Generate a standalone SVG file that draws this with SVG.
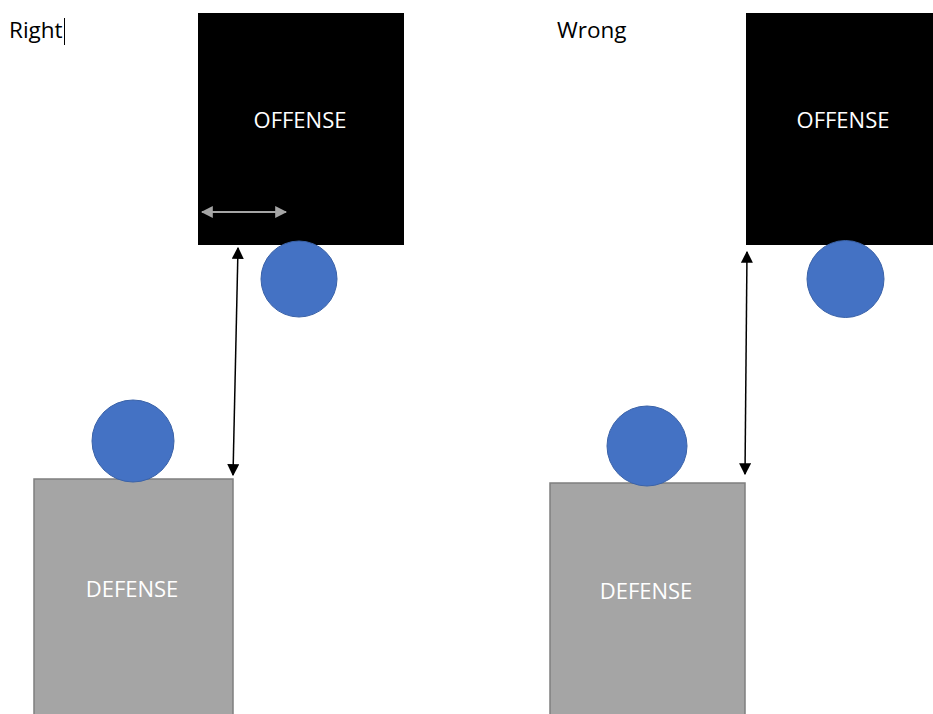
<svg xmlns="http://www.w3.org/2000/svg" width="933" height="714" viewBox="0 0 933 714">
<style>
.lbl{font-family:"Open Sans","Liberation Sans",sans-serif;font-size:22.5px;fill:#000}
.box-t{font-family:"Open Sans","Liberation Sans",sans-serif;font-size:22px;fill:#fff;text-anchor:middle}
.off{fill:#000}
.def{fill:#a5a5a5;stroke:#7f7f7f;stroke-width:1.5}
.ball{fill:#4472c4;stroke:#3a62a8;stroke-width:1}
.arr{stroke:#000;stroke-width:1.5;fill:none;marker-start:url(#ah);marker-end:url(#ah)}
.arr-g{stroke:#a5a5a5;stroke-width:2;fill:none;marker-start:url(#ahg);marker-end:url(#ahg)}
</style>
<defs>
<marker id="ah" viewBox="0 0 10 10" refX="9" refY="5" markerWidth="8" markerHeight="8" orient="auto-start-reverse" markerUnits="strokeWidth">
<path d="M0,0 L10,5 L0,10 z" fill="#000"/>
</marker>
<marker id="ahg" viewBox="0 0 10 10" refX="9" refY="5" markerWidth="6" markerHeight="6" orient="auto-start-reverse" markerUnits="strokeWidth">
<path d="M0,0 L10,5 L0,10 z" fill="#a5a5a5"/>
</marker>
</defs>
<rect width="933" height="714" fill="#fff"/>
<text class="lbl" x="9" y="38">Right</text>
<line x1="64.5" y1="18" x2="64.5" y2="45" stroke="#000" stroke-width="1"/>
<text class="lbl" x="557" y="38">Wrong</text>

<g id="offense-right">
<rect class="off" x="198" y="13" width="206" height="232"/>
<text class="box-t" x="300" y="128">OFFENSE</text>
</g>
<g id="ball-offense-right"><circle class="ball" cx="299" cy="279" r="38"/></g>
<g id="defense-right">
<rect class="def" x="34" y="479" width="199" height="240"/>
<text class="box-t" x="132" y="597">DEFENSE</text>
</g>
<g id="ball-defense-right"><circle class="ball" cx="133" cy="441" r="41"/></g>

<g id="offense-wrong">
<rect class="off" x="746" y="13" width="190" height="232"/>
<text class="box-t" x="843" y="128">OFFENSE</text>
</g>
<g id="ball-offense-wrong"><circle class="ball" cx="845.5" cy="279" r="38.5"/></g>
<g id="defense-wrong">
<rect class="def" x="550" y="483" width="195" height="240"/>
<text class="box-t" x="646" y="599">DEFENSE</text>
</g>
<g id="ball-defense-wrong"><circle class="ball" cx="647" cy="446" r="40"/></g>

<g id="connectors">
<line class="arr-g" x1="202" y1="212" x2="286" y2="212"/>
<line class="arr" x1="238" y1="248" x2="233" y2="475"/>
<line class="arr" x1="747" y1="252" x2="745" y2="474"/>
</g>
</svg>
